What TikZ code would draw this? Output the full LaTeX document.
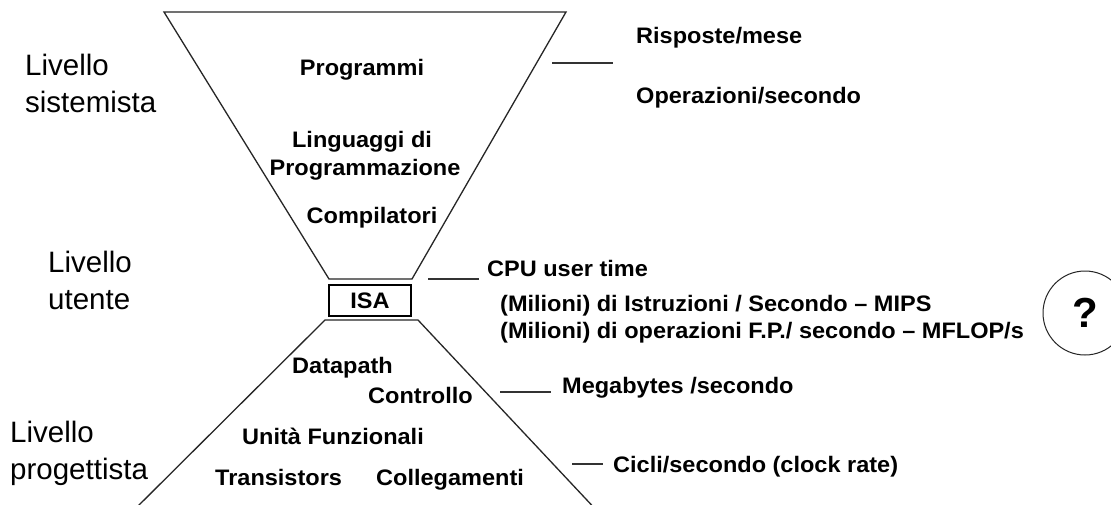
\documentclass[tikz,border=0pt]{standalone}
\usepackage{fontspec}
\setmainfont{Liberation Sans}
% slightly widened lettering
\newcommand{\wide}[1]{\scalebox{1.05}[1]{#1}}
\begin{document}
\begin{tikzpicture}[x=1pt,y=-1pt,
  edge/.style={line width=1.3pt,color=black!85},
  tick/.style={line width=1.2pt,color=black!80},
  level/.style={anchor=base west,inner sep=0pt,font=\fontsize{29.5}{31}\selectfont},
  tag/.style={anchor=base west,inner sep=0pt,font=\fontsize{22.4}{24}\selectfont\bfseries},
  ctag/.style={tag,anchor=base},
  isabox/.style={draw,line width=1.3pt,minimum width=82pt,minimum height=31pt,inner sep=0pt,font=\fontsize{22.4}{24}\selectfont\bfseries},
  qcircle/.style={draw,circle,line width=1pt,color=black!85,text=black,minimum size=84pt,inner sep=0pt,font=\fontsize{42}{44}\selectfont\bfseries}
]
\clip (0,0) rectangle (1111,504);
\fill[white] (0,0) rectangle (1111,504);

% upper funnel
\coordinate (ua) at (164,12);
\coordinate (ub) at (566,12);
\coordinate (uc) at (412,279);
\coordinate (ud) at (329,279);
\draw[edge] (ua) -- (ub) -- (uc) -- (ud) -- cycle;

% ISA box in the neck
\node[isabox] (isa) at (370,300.5) {\wide{ISA}};

% lower funnel
\coordinate (la) at (325,320);
\coordinate (lb) at (418,320);
\coordinate (lc) at (600,514);
\coordinate (ld) at (130,514);
\draw[edge] (ld) -- (la) -- (lb) -- (lc);

% level names
\node[level] (l1a) at (25,75) {Livello};
\node[level] (l1b) at (25,112) {sistemista};
\node[level] (l2a) at (48,272) {Livello};
\node[level] (l2b) at (48,309) {utente};
\node[level] (l3a) at (10,442) {Livello};
\node[level] (l3b) at (10,479) {progettista};

% inside the upper funnel
\node[ctag] (prog) at (362,75) {\wide{Programmi}};
\node[ctag] (ling) at (362,147) {\wide{Linguaggi di}};
\node[ctag] (progz) at (365,175) {\wide{Programmazione}};
\node[ctag] (comp) at (372,223) {\wide{Compilatori}};

% inside the lower funnel
\node[tag] (dp) at (292,373) {\wide{Datapath}};
\node[tag] (ctl) at (368,403) {\wide{Controllo}};
\node[tag] (uf) at (242,444) {\wide{Unità Funzionali}};
\node[tag] (tr) at (215,485) {\wide{Transistors}};
\node[tag] (col) at (376,485) {\wide{Collegamenti}};

% metrics on the right
\node[tag] (m1) at (636,43) {\wide{Risposte/mese}};
\node[tag] (m2) at (636,103) {\wide{Operazioni/secondo}};
\node[tag] (m3) at (487,276) {\wide{CPU user time}};
\node[tag] (m4) at (500,311) {\wide{(Milioni) di Istruzioni / Secondo – MIPS}};
\node[tag] (m5) at (500,338) {\wide{(Milioni) di operazioni F.P./ secondo – MFLOP/s}};
\node[tag] (m6) at (562,393) {\wide{Megabytes /secondo}};
\node[tag] (m7) at (613,472) {\wide{Cicli/secondo (clock rate)}};

% leader ticks
\coordinate (t1a) at (552,63);  \coordinate (t1b) at (613,63);
\coordinate (t2a) at (428,279); \coordinate (t2b) at (479,279);
\coordinate (t3a) at (500,392); \coordinate (t3b) at (551,392);
\coordinate (t4a) at (572,464); \coordinate (t4b) at (603,464);
\draw[tick] (t1a) -- (t1b);
\draw[tick] (t2a) -- (t2b);
\draw[tick] (t3a) -- (t3b);
\draw[tick] (t4a) -- (t4b);

% open question
\node[qcircle] (q) at (1085,313) {?};
\end{tikzpicture}
\end{document}
